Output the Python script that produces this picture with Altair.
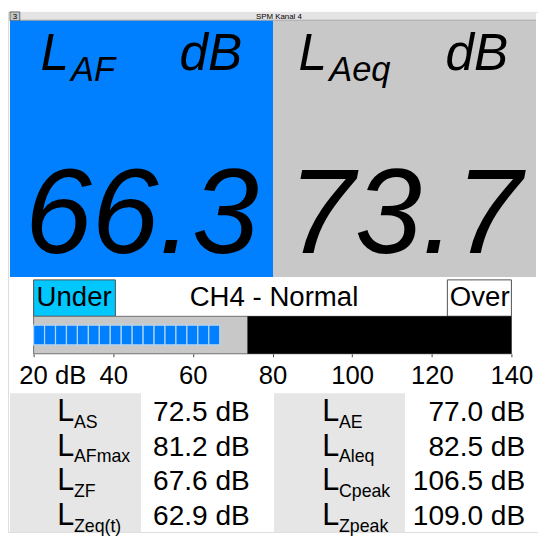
import altair as alt
import pandas as pd
import numpy as np

FONT = "Liberation Sans"

# ---------------- data ----------------
window_no = "3"
window_title = "SPM Kanal 4"
channel_label = "CH4 - Normal"

main_names = ["AF", "Aeq"]
main_values = [66.3, 73.7]

meter_domain = [20, 140]
meter_ticks = [20, 40, 60, 80, 100, 120, 140]
meter_level = 66.3        # L_AF bar
meter_limit = 73.7        # black region start (L_Aeq)
segment_db = 2.75

left_names = ["AS", "AFmax", "ZF", "Zeq(t)"]
left_values = [72.5, 81.2, 67.6, 62.9]
right_names = ["AE", "Aleq", "Cpeak", "Zpeak"]
right_values = [77.0, 82.5, 106.5, 109.0]

# ---------------- layout (chart pixels) ----------------
W, H = 538, 528
BLUE = "#0080FF"
GRAY = "#C8C8C8"
CYAN = "#00C8FF"
LIGHT = "#E6E6E6"

xdb = alt.Scale(domain=meter_domain, range=[26, 511])
yrow = alt.Scale(domain=[0, 3], range=[415, 521])


def box(x, x2, y, y2, fill, stroke=None, sw=1):
    kw = dict(fill=fill)
    if stroke:
        kw.update(stroke=stroke, strokeWidth=sw)
    return alt.Chart(pd.DataFrame({"k": [0]})).mark_rect(**kw).encode(
        x=alt.value(x), x2=alt.value(x2), y=alt.value(y), y2=alt.value(y2))


def txt(text, x, y, size, align="left", italic=False, color="black"):
    return alt.Chart(pd.DataFrame({"t": [text]})).mark_text(
        align=align, baseline="alphabetic", fontSize=size, font=FONT,
        fontStyle="italic" if italic else "normal", color=color
    ).encode(x=alt.value(x), y=alt.value(y), text="t:N")


layers = []
# title bar
layers.append(box(2, 536, 0, 9, "#E4E4E4"))
layers.append(box(2, 536, 8, 9, "#9A9A9A"))
layers.append(box(2, 12, 0, 9, "#C4C4C4", "#505050", 0.8))
layers.append(txt(window_no, 7, 7, 8, "center"))
layers.append(txt(window_title, 275, 7, 8, "center"))

# main panels
layers.append(box(2, 269, 9, 269, BLUE))
layers.append(box(269, 536, 9, 269, GRAY))
panel_specs = [(33, 64, 174, 136), (295, 326, 444, 403)]
for name, val, (lx, sx, dx, cx) in zip(main_names, main_values, panel_specs):
    layers.append(txt("L", lx, 59, 52, italic=True))
    layers.append(txt(name, sx, 70, 35, italic=True))
    layers.append(txt("dB", dx, 59, 52, italic=True))
    layers.append(txt(f"{val:.1f}", cx, 245, 122, "center", italic=True))

# meter header
layers.append(box(26, 109, 272, 309, CYAN, "#505050"))
layers.append(box(446, 511, 272, 309, "white", "#505050"))
layers.append(txt("Under", 29, 299, 28))
layers.append(txt(channel_label, 270, 299, 28, "center"))
layers.append(txt("Over", 448.5, 299, 28))

# meter bar
bar_df = pd.DataFrame({"a": [meter_domain[0]], "b": [meter_domain[1]]})
layers.append(alt.Chart(bar_df).mark_rect(fill=GRAY, stroke="#707070", strokeWidth=1).encode(
    x=alt.X("a:Q", scale=xdb, axis=alt.Axis(
        values=meter_ticks, offset=-(H - 347), domain=False, grid=False,
        tickSize=3, tickColor="#404040", labelFont=FONT, labelFontSize=26,
        labelColor="black", labelPadding=6,
        labelExpr="datum.value == 20 ? '20 dB' : datum.label",
        labelAlign={"condition": {"test": "datum.value == 20", "value": "left"}, "value": "center"},
        labelOffset={"condition": {"test": "datum.value == 20", "value": -15}, "value": 0},
        title=None)),
    x2="b:Q", y=alt.value(309), y2=alt.value(347)))
black_df = pd.DataFrame({"a": [meter_limit], "b": [meter_domain[1]]})
layers.append(alt.Chart(black_df).mark_rect(fill="black").encode(
    x=alt.X("a:Q", scale=xdb), x2="b:Q", y=alt.value(309), y2=alt.value(347)))
seg_start = np.arange(meter_domain[0], meter_level, segment_db)
seg_df = pd.DataFrame({"s": seg_start, "e": seg_start + segment_db})
layers.append(alt.Chart(seg_df).mark_rect(fill=BLUE, stroke="#B8D4EE", strokeWidth=1.2).encode(
    x=alt.X("s:Q", scale=xdb), x2="e:Q", y=alt.value(318), y2=alt.value(338)))

# table
layers.append(box(2, 135, 387, 528, LIGHT))
layers.append(box(270, 403, 387, 528, LIGHT))
for names, vals, lx, vx in [(left_names, left_values, 50, 245.5),
                            (right_names, right_values, 319, 525)]:
    df = pd.DataFrame({"row": range(len(names)), "sub": names, "value": vals})
    base = alt.Chart(df)
    layers.append(base.mark_text(text="L", align="left", baseline="alphabetic",
                                 fontSize=31, font=FONT, color="black").encode(
        x=alt.value(lx), y=alt.Y("row:Q", scale=yrow, axis=None)))
    layers.append(base.mark_text(align="left", baseline="alphabetic", dx=0, dy=7,
                                 fontSize=18, font=FONT, color="black").encode(
        x=alt.value(lx + 17), y=alt.Y("row:Q", scale=yrow, axis=None), text="sub:N"))
    layers.append(base.transform_calculate(
        lab="format(datum.value, '.1f') + ' dB'").mark_text(
        align="right", baseline="alphabetic", fontSize=28.5, font=FONT, color="black").encode(
        x=alt.value(vx), y=alt.Y("row:Q", scale=yrow, axis=None), text="lab:N"))

chart = alt.layer(*layers).properties(
    width=W, height=H, padding=0, autosize="none"
).configure_view(stroke=None).configure(background="white")

chart.save("out.html", embed_options={"renderer": "svg", "actions": False})
